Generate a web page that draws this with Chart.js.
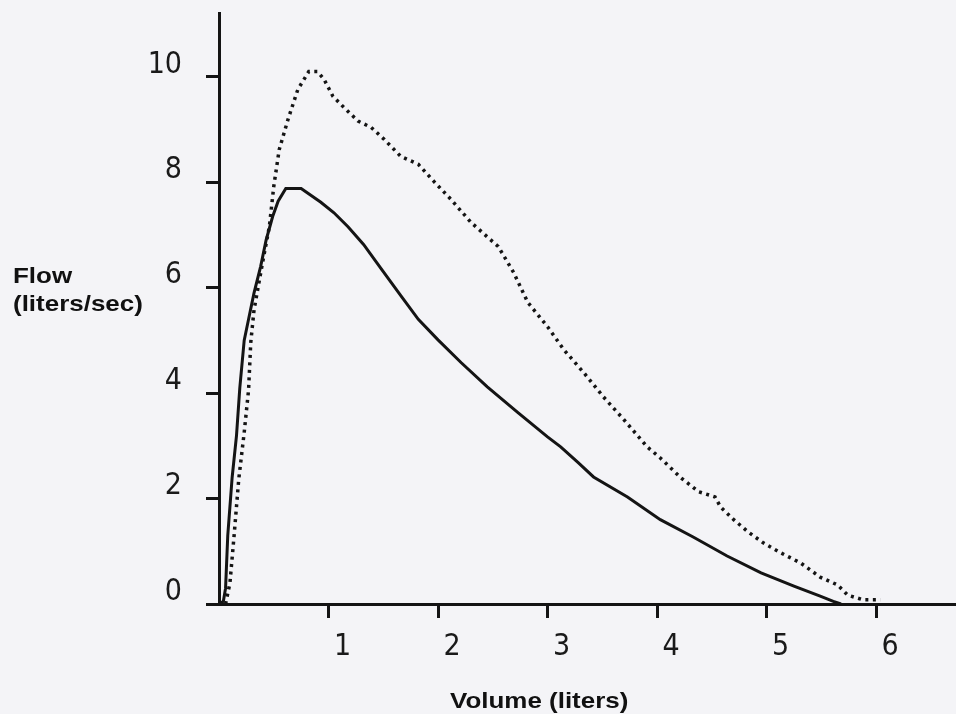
<!DOCTYPE html>
<html>
<head>
<meta charset="utf-8">
<script src="https://cdn.jsdelivr.net/npm/chart.js@4.4.1/dist/chart.umd.min.js"></script>
<style>
  html, body { margin: 0; padding: 0; background: #f4f4f7; }
  #wrap { width: 956px; height: 714px; position: relative; }
</style>
</head>
<body>
<div id="wrap"><canvas id="flowChart"></canvas></div>
<script>
// volume (liters) / flow (liters/sec)
const solidVolume = [0.00, 0.04, 0.06, 0.08, 0.12, 0.16, 0.19, 0.23, 0.27, 0.32, 0.38, 0.43, 0.49, 0.54, 0.61, 0.75, 0.93, 1.05, 1.18, 1.32, 1.48, 1.66, 1.82, 2.00, 2.21, 2.45, 2.73, 3.00, 3.12, 3.28, 3.42, 3.73, 4.03, 4.33, 4.64, 4.95, 5.25, 5.49, 5.61, 5.68];
const solidFlow = [0.00, 0.05, 0.30, 1.30, 2.40, 3.20, 4.10, 5.00, 5.40, 5.90, 6.40, 6.90, 7.35, 7.64, 7.88, 7.88, 7.62, 7.42, 7.15, 6.82, 6.36, 5.85, 5.40, 5.01, 4.58, 4.12, 3.63, 3.17, 2.98, 2.68, 2.41, 2.03, 1.60, 1.27, 0.91, 0.59, 0.34, 0.15, 0.05, 0.00];

const dottedVolume = [0.06, 0.10, 0.14, 0.18, 0.23, 0.27, 0.29, 0.32, 0.40, 0.46, 0.50, 0.55, 0.63, 0.72, 0.82, 0.90, 0.96, 1.04, 1.14, 1.27, 1.39, 1.51, 1.66, 1.82, 1.96, 2.12, 2.30, 2.55, 2.69, 2.82, 3.00, 3.15, 3.33, 3.51, 3.70, 3.91, 4.03, 4.22, 4.38, 4.53, 4.58, 4.70, 4.83, 4.97, 5.13, 5.31, 5.49, 5.65, 5.74, 5.88, 6.04];
const dottedFlow = [0.00, 0.40, 1.35, 2.36, 3.25, 4.06, 4.96, 5.58, 6.50, 7.16, 7.92, 8.62, 9.19, 9.76, 10.10, 10.10, 9.95, 9.63, 9.42, 9.16, 9.04, 8.81, 8.49, 8.34, 8.02, 7.67, 7.24, 6.78, 6.29, 5.72, 5.26, 4.82, 4.39, 3.93, 3.49, 2.98, 2.77, 2.39, 2.13, 2.03, 1.84, 1.60, 1.37, 1.16, 0.97, 0.78, 0.51, 0.36, 0.17, 0.08, 0.08];

const xTicks = [1, 2, 3, 4, 5, 6];
const yTicks = [0, 2, 4, 6, 8, 10];

const ink = "#141414";
const tickFont = { family: '"Liberation Sans Narrow", "DejaVu Sans Condensed", "Liberation Sans", sans-serif', size: 30 };

function toPoints(xs, ys) {
    return xs.map((x, i) => ({ x: x, y: ys[i] }));
}

// paper colour behind everything
const paper = {
    id: "paper",
    beforeDraw(chart) {
        const ctx = chart.ctx;
        ctx.save();
        ctx.fillStyle = "#f4f4f7";
        ctx.fillRect(0, 0, chart.width, chart.height);
        ctx.restore();
    },
};

// horizontal axis titles, the scan is a bit stretched sideways
const axisTitles = {
    id: "axisTitles",
    afterDraw(chart) {
        const ctx = chart.ctx;
        const put = (text, x, y) => {
            ctx.save();
            ctx.translate(x, y);
            ctx.scale(1.18, 1);
            ctx.fillText(text, 0, 0);
            ctx.restore();
        };
        ctx.save();
        ctx.font = 'bold 22px "Liberation Sans", Arial, sans-serif';
        ctx.fillStyle = "#111";
        ctx.textBaseline = "alphabetic";
        ctx.textAlign = "left";
        put("Flow", 13, 283);
        put("(liters/sec)", 13, 311);
        put("Volume (liters)", 450, 708);
        ctx.restore();
    },
};

new Chart(document.getElementById("flowChart"), {
    type: "scatter",
    data: {
        datasets: [
            {
                label: "solid",
                data: toPoints(solidVolume, solidFlow),
                showLine: true,
                borderColor: ink,
                borderWidth: 3,
                pointRadius: 0,
                tension: 0,
            },
            {
                label: "dotted",
                data: toPoints(dottedVolume, dottedFlow),
                showLine: true,
                borderColor: ink,
                borderWidth: 3.5,
                borderDash: [3, 4.5],
                borderCapStyle: "butt",
                pointRadius: 0,
                tension: 0,
            },
        ],
    },
    options: {
        responsive: true,
        maintainAspectRatio: false,
        animation: false,
        layout: { padding: { top: 13, right: 0, bottom: 0, left: 0 } },
        plugins: {
            legend: { display: false },
            tooltip: { enabled: false },
        },
        scales: {
            x: {
                type: "linear",
                min: 0,
                max: 6.73,
                afterBuildTicks: (scale) => {
                    scale.ticks = xTicks.map((v) => ({ value: v }));
                },
                afterFit: (scale) => {
                    scale.height = 110;
                    scale.paddingLeft = 0;
                    scale.paddingRight = 0;
                },
                grid: {
                    drawOnChartArea: false,
                    drawTicks: true,
                    tickLength: 14,
                    tickWidth: 3,
                    tickColor: ink,
                },
                border: { display: true, color: ink, width: 3 },
                ticks: {
                    color: "#1a1a1a",
                    font: tickFont,
                    padding: 11,
                    labelOffset: 14,
                    maxRotation: 0,
                    autoSkip: false,
                },
            },
            y: {
                type: "linear",
                min: 0,
                max: 11.21,
                afterBuildTicks: (scale) => {
                    scale.ticks = yTicks.map((v) => ({ value: v }));
                },
                afterFit: (scale) => {
                    scale.width = 219;
                    scale.paddingTop = 0;
                    scale.paddingBottom = 0;
                },
                grid: {
                    drawOnChartArea: false,
                    drawTicks: true,
                    tickLength: 13,
                    tickWidth: 3,
                    tickColor: ink,
                },
                border: { display: true, color: ink, width: 3 },
                ticks: {
                    color: "#1a1a1a",
                    font: tickFont,
                    padding: 24,
                    labelOffset: -12,
                    autoSkip: false,
                },
            },
        },
    },
    plugins: [paper, axisTitles],
});
</script>
</body>
</html>
